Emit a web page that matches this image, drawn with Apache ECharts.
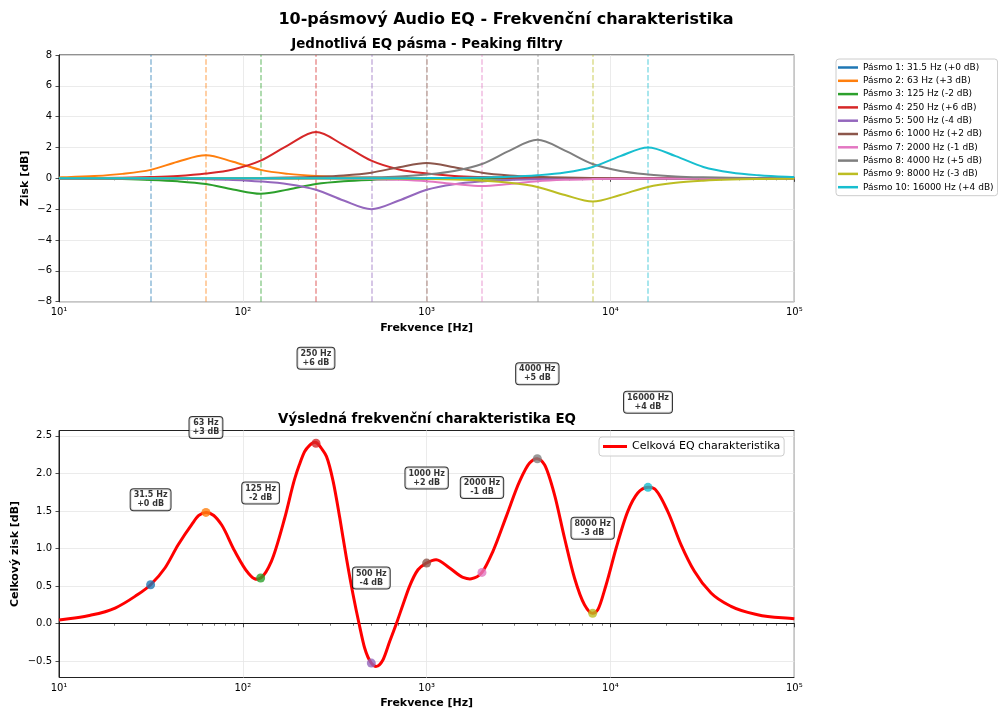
<!DOCTYPE html>
<html><head><meta charset="utf-8">
<script src="https://cdn.jsdelivr.net/npm/echarts@6/dist/echarts.min.js"></script>
<style>html,body{margin:0;padding:0;background:#fff}#c{width:998px;height:711px}</style>
</head><body><div id="c"></div><script>
// ---- data ----
const centerFreqs = [31.5, 63, 125, 250, 500, 1000, 2000, 4000, 8000, 16000];
const bandGainsDb = [0, 3, -2, 6, -4, 2, -1, 5, -3, 4];
// frequency grid on which the individual band curves were read (Hz)
const bandFreqs = [10, 11.05, 15.63, 22.1, 31.5, 44.19, 63, 88.39, 125, 176.8, 250, 353.6, 500, 707.1, 1000, 1414, 2000, 2828, 4000, 5657, 8000, 11314, 16000, 22627, 32000, 45255, 64000, 90510, 100000];
const band1 = [0,0,0,0,0,0,0,0,0,0,0,0,0,0,0,0,0,0,0,0,0,0,0,0,0,0,0,0,0];
const band2 = [0.06,0.075,0.15,0.29,0.55,1.08,1.5,1.08,0.55,0.29,0.15,0.075,0.04,0.02,0.01,0.005,0.003,0.002,0.001,0,0,0,0,0,0,0,0,0,0];
const band3 = [-0.011,-0.013,-0.026,-0.05,-0.1,-0.19,-0.37,-0.72,-1,-0.72,-0.37,-0.19,-0.1,-0.05,-0.026,-0.013,-0.007,-0.004,-0.002,0,0,0,0,0,0,0,0,0,0];
const band4 = [0.01,0.011,0.021,0.04,0.08,0.15,0.31,0.58,1.15,2.16,3,2.16,1.15,0.58,0.31,0.15,0.08,0.04,0.021,0.011,0.006,0.003,0.002,0,0,0,0,0,0];
const band5 = [-0.001,-0.002,-0.004,-0.007,-0.014,-0.026,-0.052,-0.1,-0.2,-0.38,-0.74,-1.44,-2,-1.44,-0.74,-0.38,-0.2,-0.1,-0.052,-0.026,-0.014,-0.007,-0.004,-0.002,-0.001,0,0,0,0];
const band6 = [0,0,0.001,0.001,0.002,0.0035,0.007,0.013,0.026,0.05,0.1,0.19,0.37,0.72,1,0.72,0.37,0.19,0.1,0.05,0.026,0.013,0.007,0.0035,0.002,0.001,0,0,0];
const band7 = [0,0,0,0,0,0,-0.001,-0.002,-0.0035,-0.0065,-0.013,-0.025,-0.05,-0.095,-0.185,-0.36,-0.5,-0.36,-0.185,-0.095,-0.05,-0.025,-0.013,-0.0065,-0.0035,-0.002,-0.001,0,0];
const band8 = [0,0,0,0,0,0.001,0.002,0.003,0.005,0.009,0.018,0.033,0.065,0.125,0.25,0.475,0.93,1.8,2.5,1.8,0.93,0.475,0.25,0.125,0.065,0.033,0.018,0.009,0.008];
const band9 = [0,0,0,0,0,0,0,0,-0.001,-0.002,-0.003,-0.005,-0.01,-0.02,-0.04,-0.075,-0.15,-0.285,-0.555,-1.08,-1.5,-1.08,-0.555,-0.285,-0.15,-0.075,-0.04,-0.02,-0.017];
const band10 = [0,0,0,0,0,0,0,0,0,0,0.001,0.002,0.004,0.007,0.014,0.026,0.052,0.1,0.2,0.38,0.74,1.44,2,1.44,0.74,0.38,0.2,0.1,0.08];
const bandCurves = [band1, band2, band3, band4, band5, band6, band7, band8, band9, band10];

// overall response
const totalFreqs = [10,14.4,20.2,25.9,31.5,37.7,44.5,52.6,57.6,63,69.5,76.6,90.5,107,116,125,143,169,192,203,217,230,250,270,285,310,337,366,398,429,460,500,533,579,630,684,743,808,897,1000,1128,1334,1576,1750,2000,2294,2712,3203,3630,4000,4378,4963,5623,6372,7220,8000,8531,9472,10740,12420,14070,16000,17340,20480,24220,28610,35240,45290,63100,100000];
const totalGains = [0.05,0.106,0.209,0.364,0.519,0.741,1.05,1.316,1.44,1.481,1.44,1.316,0.963,0.674,0.598,0.608,0.83,1.406,1.937,2.114,2.29,2.37,2.41,2.32,2.226,1.894,1.406,0.874,0.386,0.0,-0.323,-0.523,-0.567,-0.479,-0.234,0.0,0.253,0.501,0.718,0.807,0.851,0.741,0.617,0.598,0.683,0.963,1.428,1.894,2.137,2.194,2.114,1.715,1.14,0.608,0.253,0.138,0.186,0.519,1.007,1.495,1.738,1.814,1.795,1.495,1.05,0.697,0.408,0.231,0.12,0.066];
const totalAtCenters = [0.519, 1.481, 0.608, 2.40, -0.523, 0.807, 0.683, 2.194, 0.138, 1.814];

const bottomYTicks = [-0.5, 0, 0.5, 1, 1.5, 2, 2.5];

// ---- styles ----
const palette = ['#1f77b4','#ff7f0e','#2ca02c','#d62728','#9467bd','#8c564b','#e377c2','#7f7f7f','#bcbd22','#17becf'];
const FONT = '"DejaVu Sans", sans-serif';
const AX = '#222';
const GRIDC = '#e6e6e6';

const signed = g => (g >= 0 ? '+' : '-') + Math.abs(g);
const bandNames = centerFreqs.map((f, i) => `Pásmo ${i + 1}: ${f} Hz (${signed(bandGainsDb[i])} dB)`);
const sup = {1:'¹',2:'²',3:'³',4:'⁴',5:'⁵'};
const logFmt = v => '10' + (sup[Math.round(Math.log10(v))] || '');
const minus = s => String(s).replace('-', '−');

// smooth C1 cubic (Hermite) path through pixel points that the axes produced
function hermitePath(pts) {
  const n = pts.length, h = [], d = [], m = [];
  for (let i = 0; i < n - 1; i++) {
    h[i] = pts[i + 1][0] - pts[i][0];
    d[i] = (pts[i + 1][1] - pts[i][1]) / (h[i] || 1e-6);
  }
  m[0] = d[0]; m[n - 1] = d[n - 2];
  for (let i = 1; i < n - 1; i++) m[i] = (d[i - 1] * h[i] + d[i] * h[i - 1]) / (h[i - 1] + h[i]);
  let p = `M${pts[0][0]},${pts[0][1]}`;
  for (let i = 0; i < n - 1; i++) {
    const t = h[i] / 3;
    p += ` C${pts[i][0] + t},${pts[i][1] + m[i] * t} ${pts[i + 1][0] - t},${pts[i + 1][1] - m[i + 1] * t} ${pts[i + 1][0]},${pts[i + 1][1]}`;
  }
  return p;
}

function curveSeries(name, xi, yi, xs, ys, color, width, z, markLine) {
  const s = {
    name, type: 'custom', coordinateSystem: 'cartesian2d', xAxisIndex: xi, yAxisIndex: yi, z,
    data: xs.map((x, j) => [x, ys[j]]), encode: {x: 0, y: 1},
    itemStyle: {color}, silent: true,
    renderItem: (params, api) => {
      if (params.dataIndex !== 0) return null;
      const pts = xs.map((x, j) => api.coord([x, ys[j]]));
      return {type: 'path', shape: {pathData: hermitePath(pts)},
              style: {stroke: color, lineWidth: width, fill: 'none', lineJoin: 'round'}};
    }
  };
  if (markLine) s.markLine = markLine;
  return s;
}

function xAxis(gi, gap) {
  return {
    type: 'log', logBase: 10, min: 10, max: 100000, gridIndex: gi,
    name: 'Frekvence [Hz]', nameLocation: 'middle', nameGap: gap, nameMoveOverlap: false,
    nameTextStyle: {fontWeight: 'bold', fontSize: 11, color: '#000', fontFamily: FONT},
    axisLine: {show: true, lineStyle: {color: AX, width: 1}},
    axisTick: {show: true, length: 3.5, lineStyle: {color: AX, width: 0.8}},
    minorTick: {show: true, splitNumber: 9, length: 2, lineStyle: {color: AX, width: 0.6}},
    axisLabel: {formatter: logFmt, fontSize: 10, color: '#000', margin: 6, fontFamily: FONT},
    splitLine: {show: true, lineStyle: {color: GRIDC, width: 0.8}},
    minorSplitLine: {show: false}
  };
}

const series = [];
bandCurves.forEach((arr, i) => {
  series.push(curveSeries(bandNames[i], 0, 0, bandFreqs, arr, palette[i], 2, 3, {
    silent: true, symbol: ['none', 'none'], label: {show: false}, z: 2,
    lineStyle: {color: palette[i], type: [5.5, 2.4], width: 1.5, opacity: 0.5},
    emphasis: {disabled: true},
    data: [{xAxis: centerFreqs[i]}]
  }));
});
series.push(curveSeries('Celková EQ charakteristika', 1, 1, totalFreqs, totalGains, '#ff0000', 3, 3, {
  silent: true, symbol: ['none', 'none'], label: {show: false}, z: 2,
  lineStyle: {color: '#000', type: 'solid', width: 1.2, opacity: 0.55},
  emphasis: {disabled: true},
  data: [{yAxis: 0}]
}));
series.push({
  name: 'body', type: 'scatter', xAxisIndex: 1, yAxisIndex: 1, symbolSize: 9, z: 6,
  data: centerFreqs.map((f, i) => ({
    value: [f, totalAtCenters[i]], itemStyle: {color: palette[i]},
    label: {formatter: `${f} Hz\n${signed(bandGainsDb[i])} dB`}
  })),
  label: {
    show: true, position: 'inside', offset: [0, -85], fontSize: 8, fontWeight: 'bold',
    fontFamily: FONT, color: '#000', backgroundColor: '#fff', borderColor: '#000',
    borderWidth: 1, borderRadius: 3, padding: [2, 3, 1, 3], lineHeight: 9, align: 'center'
  }
});

const chart = echarts.init(document.getElementById('c'), null, {renderer: 'canvas'});
chart.setOption({
  animation: false,
  backgroundColor: '#fff',
  textStyle: {fontFamily: FONT},
  graphic: [
    {type: 'text', x: 506, y: 20, style: {text: '10-pásmový Audio EQ - Frekvenční charakteristika', align: 'center', verticalAlign: 'middle', fontSize: 16, fontWeight: 'bold', fontFamily: FONT, fill: '#000'}},
    {type: 'text', x: 427, y: 45, style: {text: 'Jednotlivá EQ pásma - Peaking filtry', align: 'center', verticalAlign: 'middle', fontSize: 13.4, fontWeight: 'bold', fontFamily: FONT, fill: '#000'}},
    {type: 'text', x: 427, y: 420, style: {text: 'Výsledná frekvenční charakteristika EQ', align: 'center', verticalAlign: 'middle', fontSize: 13.4, fontWeight: 'bold', fontFamily: FONT, fill: '#000'}}
  ],
  grid: [
    {left: 59, right: 203.7, top: 55, bottom: 409.3, show: true, borderColor: AX, borderWidth: 1, backgroundColor: 'transparent', outerBoundsMode: 'none'},
    {left: 59, right: 203.7, top: 430.5, bottom: 33.5, show: true, borderColor: AX, borderWidth: 1, backgroundColor: 'transparent', outerBoundsMode: 'none'}
  ],
  xAxis: [xAxis(0, 21), xAxis(1, 20.5)],
  yAxis: [
    {type: 'value', gridIndex: 0, min: -8, max: 8, interval: 2,
     name: 'Zisk [dB]', nameLocation: 'middle', nameGap: 28.5, nameRotate: 90, nameMoveOverlap: false,
     nameTextStyle: {fontWeight: 'bold', fontSize: 11, color: '#000', fontFamily: FONT},
     axisLine: {show: true, lineStyle: {color: AX}},
     axisTick: {show: true, length: 3.5, lineStyle: {color: AX, width: 0.8}},
     axisLabel: {formatter: v => minus(v), fontSize: 10, color: '#000', margin: 7, fontFamily: FONT},
     splitLine: {show: true, lineStyle: {color: GRIDC, width: 0.8}}},
    {type: 'value', gridIndex: 1, min: -0.715, max: 2.57,
     name: 'Celkový zisk [dB]', nameLocation: 'middle', nameGap: 38.5, nameRotate: 90, nameMoveOverlap: false,
     nameTextStyle: {fontWeight: 'bold', fontSize: 11, color: '#000', fontFamily: FONT},
     axisLine: {show: true, lineStyle: {color: AX}},
     axisTick: {show: true, length: 3.5, lineStyle: {color: AX, width: 0.8}, customValues: bottomYTicks},
     axisLabel: {formatter: v => minus(Number(v).toFixed(1)), fontSize: 10, color: '#000', margin: 7, fontFamily: FONT, customValues: bottomYTicks},
     splitLine: {show: true, lineStyle: {color: GRIDC, width: 0.8}}}
  ],
  legend: [
    {data: bandNames, orient: 'vertical', left: 836, top: 59, icon: 'rect', itemWidth: 20, itemHeight: 2.5,
     itemGap: 2.3, textStyle: {fontSize: 9, color: '#000', fontFamily: FONT, lineHeight: 11},
     backgroundColor: 'rgba(255,255,255,0.8)', borderColor: '#cccccc', borderWidth: 1, borderRadius: 3,
     padding: [3, 4, 3, 2], selectedMode: false},
    {data: ['Celková EQ charakteristika'], orient: 'vertical', left: 599, top: 437, icon: 'rect', itemWidth: 24, itemHeight: 3,
     textStyle: {fontSize: 11, color: '#000', fontFamily: FONT},
     backgroundColor: 'rgba(255,255,255,0.8)', borderColor: '#cccccc', borderWidth: 1, borderRadius: 3,
     padding: [4, 4, 4, 4], selectedMode: false}
  ],
  series: series
});
</script></body></html>
